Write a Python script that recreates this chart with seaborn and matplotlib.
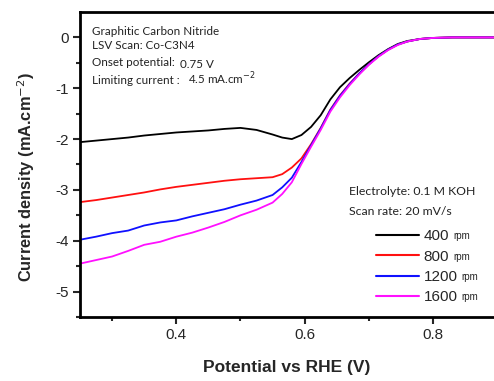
import numpy as np
import pandas as pd
import seaborn as sns
import matplotlib.pyplot as plt

# LSV data (potential in V vs RHE, current density in mA/cm2)
potential = [0.25, 0.275, 0.30, 0.325, 0.35, 0.375, 0.40, 0.425, 0.45, 0.475,
             0.50, 0.525, 0.55, 0.565, 0.58, 0.595, 0.61, 0.625, 0.64, 0.655,
             0.67, 0.685, 0.70, 0.715, 0.73, 0.745, 0.76, 0.78, 0.80, 0.83,
             0.86, 0.90]
j_400 = [-2.06, -2.03, -2.00, -1.97, -1.93, -1.90, -1.87, -1.85, -1.83, -1.80,
         -1.78, -1.82, -1.91, -1.97, -2.00, -1.92, -1.76, -1.53, -1.22, -0.98,
         -0.80, -0.64, -0.49, -0.35, -0.23, -0.13, -0.07, -0.03, -0.01, 0.0,
         0.0, 0.0]
j_800 = [-3.24, -3.20, -3.15, -3.10, -3.05, -2.99, -2.94, -2.90, -2.86, -2.82,
         -2.79, -2.77, -2.75, -2.69, -2.56, -2.38, -2.10, -1.78, -1.42, -1.14,
         -0.91, -0.71, -0.53, -0.37, -0.24, -0.14, -0.08, -0.03, -0.01, 0.0,
         0.0, 0.0]
j_1200 = [-3.98, -3.92, -3.85, -3.80, -3.70, -3.64, -3.60, -3.52, -3.45, -3.38,
          -3.29, -3.21, -3.10, -2.95, -2.76, -2.45, -2.12, -1.79, -1.43, -1.15,
          -0.92, -0.71, -0.53, -0.37, -0.24, -0.14, -0.08, -0.03, -0.01, 0.0,
          0.0, 0.0]
j_1600 = [-4.45, -4.38, -4.31, -4.20, -4.08, -4.02, -3.92, -3.84, -3.74, -3.63,
          -3.50, -3.39, -3.25, -3.08, -2.85, -2.49, -2.15, -1.82, -1.46, -1.18,
          -0.94, -0.73, -0.54, -0.38, -0.25, -0.15, -0.08, -0.03, -0.01, 0.0,
          0.0, 0.0]
speeds = ['400', '800', '1200', '1600']
colors = ['black', '#ff1010', '#1010ff', '#ff10ff']

df = pd.DataFrame({'Potential': potential, '400': j_400, '800': j_800,
                   '1200': j_1200, '1600': j_1600})
long_df = df.melt(id_vars='Potential', var_name='Speed', value_name='Current')

sns.set_style('white')
plt.rcParams['font.family'] = ['Liberation Sans', 'DejaVu Sans']

fig = plt.figure(figsize=(4.94, 3.81), dpi=100)
ax = fig.add_axes([0.162, 0.168, 0.838, 0.8005])

sns.lineplot(data=long_df, x='Potential', y='Current', hue='Speed',
             hue_order=speeds, palette=colors, linewidth=1.3, ax=ax)

ax.set_xlim(0.25, 0.895)
ax.set_ylim(-5.5, 0.5)
ax.set_xticks([0.4, 0.6, 0.8])
ax.set_xticks([0.3, 0.5, 0.7], minor=True)
ax.set_yticks([0, -1, -2, -3, -4, -5])
ax.set_yticks(np.arange(-5.5, 0.5, 0.5), minor=True)
ax.set_yticklabels(['0', '-1', '-2', '-3', '-4', '-5'])
ax.tick_params(which='major', direction='out', length=5, width=1.5,
               labelsize=11, left=True, bottom=True, pad=3)
ax.tick_params(which='minor', direction='out', length=3, width=1.5,
               left=True, bottom=True)
for side in ['left', 'bottom', 'top']:
    ax.spines[side].set_linewidth(2)
    ax.spines[side].set_color('black')
ax.spines['right'].set_visible(False)

ax.set_xlabel('Potential vs RHE (V)', fontsize=12.5, fontweight='bold', labelpad=13)
ax.set_ylabel('Current density (mA.cm$^{-2}$)', fontsize=11.8, fontweight='bold')
ax.yaxis.set_label_coords(-0.104, 0.46)

# annotations
small = dict(family=['Lato', 'DejaVu Sans'], fontsize=8.4, color='#222222',
             transform=ax.transAxes)
ax.text(0.028, 0.925, 'Graphitic Carbon Nitride', **small)
ax.text(0.028, 0.879, 'LSV Scan: Co-C3N4', **small)
ax.text(0.028, 0.823, 'Onset potential:', **small)
ax.text(0.242, 0.816, '0.75 V', **small)
ax.text(0.028, 0.764, 'Limiting current :', **small)
ax.text(0.262, 0.764, '4.5 mA.cm$^{-2}$', **small)
small['fontsize'] = 8.8
ax.text(0.65, 0.40, 'Electrolyte: 0.1 M KOH', **small)
ax.text(0.65, 0.335, 'Scan rate: 20 mV/s', **small)

leg = ax.legend(title=None, loc='upper left', bbox_to_anchor=(0.69, 0.323),
                frameon=False, fontsize=11, handlelength=2.8,
                handletextpad=0.3, labelspacing=0.42, borderpad=0.2)
for line in leg.get_lines():
    line.set_linewidth(1.5)

fig.canvas.draw()
inv = ax.transAxes.inverted()
for t in leg.get_texts():
    bb = t.get_window_extent()
    x0, y0 = inv.transform((bb.x1 + 4, bb.y0 + 2))
    ax.text(x0, y0, 'rpm', fontsize=7, va='bottom', transform=ax.transAxes)

fig.savefig('out.png', dpi=100)
